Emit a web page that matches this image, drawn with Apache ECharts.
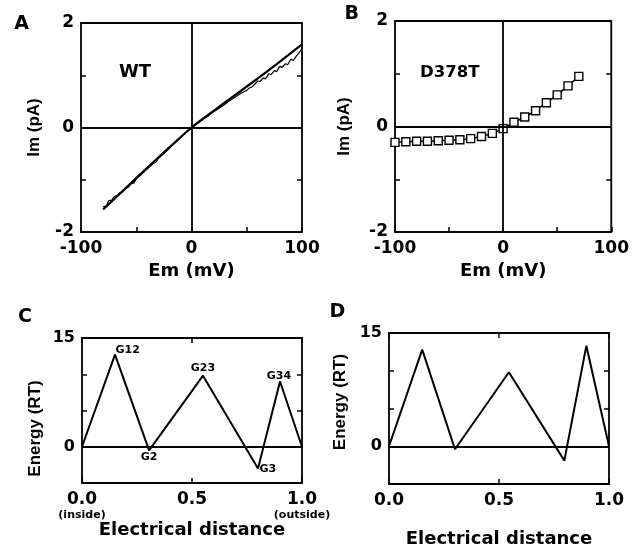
<!DOCTYPE html>
<html><head><meta charset="utf-8">
<script src="https://cdn.jsdelivr.net/npm/echarts@6/dist/echarts.min.js"></script>
<style>html,body{margin:0;padding:0;background:#fff}#c{width:632px;height:553px}</style>
</head><body><div id="c"></div>
<script>
// Panel A: WT current-voltage relation (smooth fit and recorded trace)
const wtFitEm = [-80,-60,-40,-20,0,20,40,60,80,100];
const wtFitIm = [-1.57,-1.17,-0.77,-0.38,0,0.32,0.63,0.94,1.26,1.59];
const wtTraceEm = [-80,-77,-75,-72,-70,-67,-65,-62,-60,-57,-55,-52,-50,-45,-40,-35,-32,-30,-25,-20,-15,-10,-5,0,5,10,15,20,25,30,35,40,45,50,52,55,60,62,65,67,70,72,75,77,80,82,85,87,90,92,95,97,100];
const wtTraceIm = [-1.52,-1.50,-1.40,-1.39,-1.32,-1.30,-1.25,-1.23,-1.17,-1.14,-1.08,-1.06,-0.98,-0.89,-0.79,-0.70,-0.66,-0.59,-0.50,-0.40,-0.30,-0.20,-0.10,-0.01,0.07,0.15,0.22,0.30,0.37,0.44,0.52,0.59,0.66,0.71,0.75,0.78,0.89,0.88,0.95,0.93,1.03,1.01,1.09,1.07,1.17,1.15,1.22,1.20,1.31,1.28,1.37,1.42,1.52];
// Panel B: D378T current-voltage relation
const mutEm = [-100,-90,-80,-70,-60,-50,-40,-30,-20,-10,0,10,20,30,40,50,60,70];
const mutIm = [-0.30,-0.29,-0.28,-0.28,-0.27,-0.26,-0.25,-0.23,-0.19,-0.13,-0.04,0.08,0.18,0.30,0.45,0.60,0.77,0.95];
// Panel C: WT energy profile
const wtDist = [0,0.15,0.305,0.55,0.80,0.90,1.0];
const wtEnergy = [0,12.7,-0.5,9.8,-3.0,9.0,0];
const wtSiteLabels = ['','G12','G2','G23','G3','G34',''];
// Panel D: D378T energy profile
const mutDist = [0,0.151,0.30,0.545,0.797,0.897,1.0];
const mutEnergy = [0,12.8,-0.4,9.8,-1.9,13.3,0];
// Tick labels
const imTickLabels = ['-2','0','2'];
const emTickLabels = ['-100','0','100'];
const energyTickLabels = ['0','15'];
const distTickLabels = ['0.0','0.5','1.0'];
const distEndNotes = ['(inside)','','(outside)'];

const FONT = 'DejaVu Sans';
const VFONT = 'Liberation Sans';
const BLACK = '#000';

function pick(list){ return v => list.includes(String(v)) ? String(v) : ''; }
function distFmt(withNotes){
  return v => {
    const i = distTickLabels.indexOf(Number(v).toFixed(1));
    if (i < 0) return '';
    const note = withNotes ? distEndNotes[i] : '';
    return note ? distTickLabels[i] + '\n{s|' + note + '}' : distTickLabels[i];
  };
}
const tick = {show:true, inside:true, length:5, lineStyle:{color:BLACK, width:1.5}};
const noLine = {show:false, onZero:false};
function xAx(g, min, max, interval, fmt, name, gap){
  return {
    type:'value', gridIndex:g, min, max, interval, position:'bottom',
    axisLine:noLine, splitLine:{show:false}, axisTick:tick,
    axisLabel:{show:true, formatter:fmt, margin:8, showMinLabel:true, showMaxLabel:true,
      color:BLACK, fontFamily:FONT, fontWeight:'bold', fontSize:17,
      rich:{s:{fontFamily:FONT, fontWeight:'bold', fontSize:11, color:BLACK, lineHeight:14}}},
    name, nameLocation:'middle', nameGap:gap,
    nameTextStyle:{color:BLACK, fontFamily:FONT, fontWeight:'bold', fontSize:18}
  };
}
function yAx(g, min, max, interval, fmt, name, gap, pad, fs){
  return {
    type:'value', gridIndex:g, min, max, interval, position:'left',
    axisLine:noLine, splitLine:{show:false}, axisTick:tick,
    axisLabel:{show:true, formatter:fmt, margin:7, showMinLabel:true, showMaxLabel:true,
      color:BLACK, fontFamily:FONT, fontWeight:'bold', fontSize:fs},
    name, nameLocation:'middle', nameGap:gap,
    nameTextStyle:{color:BLACK, fontFamily:VFONT, fontWeight:'bold', fontSize:17, padding:pad}
  };
}
function ghost(g, min, max, interval, pos){
  return {type:'value', gridIndex:g, min, max, interval, position:pos,
    axisLine:noLine, splitLine:{show:false}, axisTick:tick, axisLabel:{show:false}};
}
const zeroLines = (both) => ({
  silent:true, symbol:'none', animation:false, label:{show:false},
  lineStyle:{color:BLACK, width:1.8, type:'solid'},
  data: both ? [{yAxis:0},{xAxis:0}] : [{yAxis:0}]
});
const zip = (a,b) => a.map((v,i)=>[v,b[i]]);

const labelPos = {
  'G12':{position:'right', distance:0, offset:[0,-5]},
  'G2':{position:'bottom', distance:1},
  'G23':{position:'top', distance:2},
  'G3':{position:'right', distance:1, offset:[0,1]},
  'G34':{position:'top', distance:0, offset:[-1,1]}
};
const wtProfileData = wtDist.map((d,i)=>{
  const t = wtSiteLabels[i];
  const item = {value:[d, wtEnergy[i]]};
  if (t) item.label = Object.assign({show:true, formatter:t, color:BLACK, fontFamily:FONT, fontWeight:'bold', fontSize:11}, labelPos[t]);
  return item;
});

const chart = echarts.init(document.getElementById('c'), null, {renderer:'canvas'});
const gridStyle = {show:true, borderColor:BLACK, borderWidth:1.8, backgroundColor:'transparent', containLabel:false};
chart.setOption({
  animation:false,
  backgroundColor:'#fff',
  textStyle:{fontFamily:FONT, fontWeight:'bold', color:BLACK},
  grid:[
    Object.assign({left:81, top:23, width:221, height:209}, gridStyle),
    Object.assign({left:395, top:21, width:218, height:211}, gridStyle),
    Object.assign({left:82, top:338, width:220, height:145}, gridStyle),
    Object.assign({left:389, top:333, width:220, height:151}, gridStyle)
  ],
  xAxis:[
    xAx(0, -100, 100, 50, pick(emTickLabels), 'Em (mV)', 30),
    xAx(1, -100, 100, 50, pick(emTickLabels), 'Em (mV)', 30),
    xAx(2, 0, 1, 0.5, distFmt(true), 'Electrical distance', 36),
    xAx(3, 0, 1, 0.5, distFmt(false), 'Electrical distance', 46),
    ghost(2, 0, 1, 0.5, 'top'),
    ghost(3, 0, 1, 0.5, 'top')
  ],
  yAxis:[
    yAx(0, -2, 2, 1, pick(imTickLabels), 'Im (pA)', 38, [0,0,0,0], 17),
    yAx(1, -2, 2, 1, pick(imTickLabels), 'Im (pA)', 42, [0,0,0,0], 17),
    yAx(2, -5, 15, 5, pick(energyTickLabels), 'Energy (RT)', 38, [0,36,0,0], 16),
    yAx(3, -5, 15, 5, pick(energyTickLabels), 'Energy (RT)', 40, [0,0,0,13], 16),
    ghost(0, -2, 2, 1, 'right'),
    ghost(1, -2, 2, 1, 'right'),
    ghost(2, -5, 15, 5, 'right'),
    ghost(3, -5, 15, 5, 'right')
  ],
  series:[
    {type:'line', xAxisIndex:0, yAxisIndex:0, data:zip(wtTraceEm, wtTraceIm), symbol:'none',
      lineStyle:{color:BLACK, width:1.2}, z:3, markLine:zeroLines(true)},
    {type:'line', xAxisIndex:0, yAxisIndex:0, data:zip(wtFitEm, wtFitIm), symbol:'none', smooth:0.3,
      lineStyle:{color:BLACK, width:2.2}, z:4},
    {type:'line', xAxisIndex:1, yAxisIndex:1, data:zip(mutEm, mutIm), symbol:'rect', symbolSize:8,
      itemStyle:{color:'#fff', borderColor:BLACK, borderWidth:1.4},
      lineStyle:{color:BLACK, width:1.5}, z:4, markLine:zeroLines(true)},
    {type:'line', xAxisIndex:2, yAxisIndex:2, data:wtProfileData, symbol:'circle', symbolSize:1,
      itemStyle:{color:BLACK}, lineStyle:{color:BLACK, width:2}, z:4, markLine:zeroLines(false)},
    {type:'line', xAxisIndex:3, yAxisIndex:3, data:zip(mutDist, mutEnergy), symbol:'none',
      lineStyle:{color:BLACK, width:2}, z:4, markLine:zeroLines(false)}
  ],
  graphic:[
    {type:'text', x:21.5, y:24, style:{text:'A', align:'center', verticalAlign:'middle', font:'bold 19px "DejaVu Sans"', fill:BLACK}},
    {type:'text', x:351.7, y:14.2, style:{text:'B', align:'center', verticalAlign:'middle', font:'bold 19px "DejaVu Sans"', fill:BLACK}},
    {type:'text', x:25, y:317.5, style:{text:'C', align:'center', verticalAlign:'middle', font:'bold 19px "DejaVu Sans"', fill:BLACK}},
    {type:'text', x:337.5, y:312.5, style:{text:'D', align:'center', verticalAlign:'middle', font:'bold 19px "DejaVu Sans"', fill:BLACK}},
    {type:'text', x:135, y:72.5, style:{text:'WT', align:'center', verticalAlign:'middle', font:'bold 18px "DejaVu Sans"', fill:BLACK}},
    {type:'text', x:449.7, y:72.5, style:{text:'D378T', align:'center', verticalAlign:'middle', font:'bold 16.5px "DejaVu Sans"', fill:BLACK}}
  ]
});
</script>
</body></html>
